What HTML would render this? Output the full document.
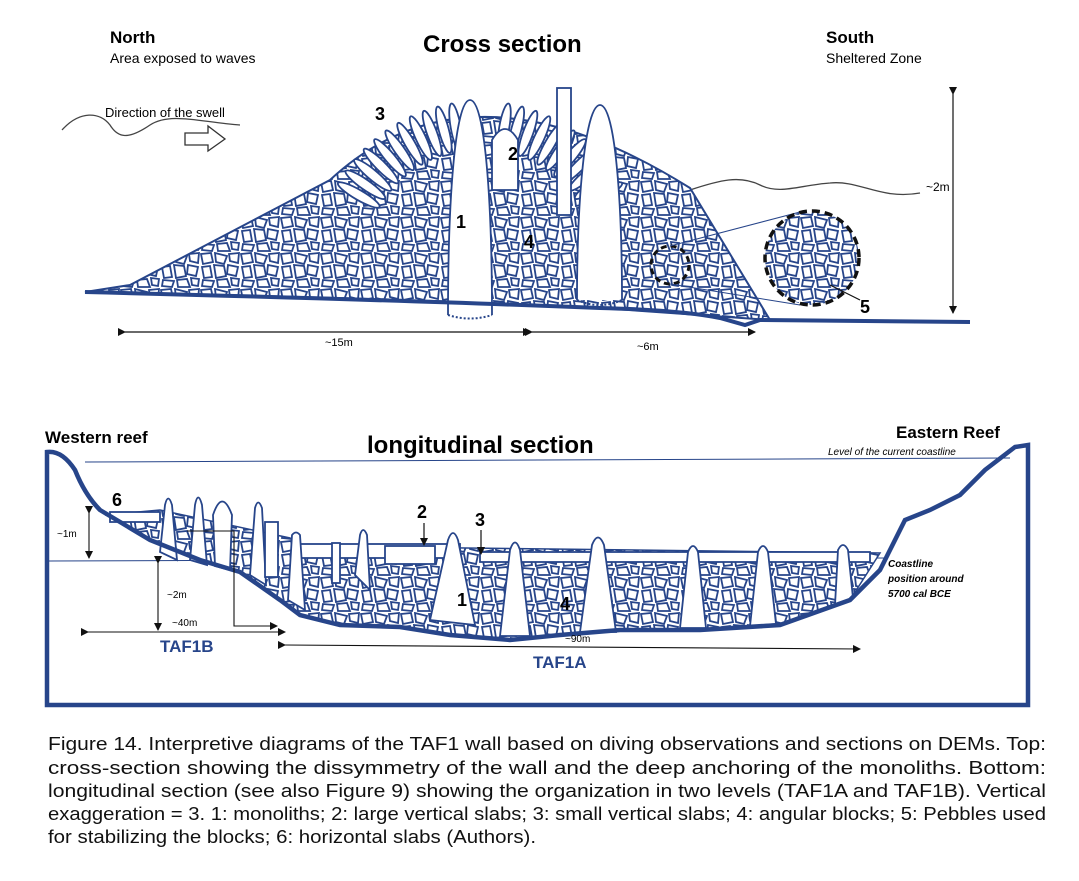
<!DOCTYPE html>
<html><head><meta charset="utf-8"><style>
html,body{margin:0;padding:0;background:#fff;}
svg{display:block;font-family:"Liberation Sans",Arial,sans-serif;}
</style></head><body>
<svg width="1079" height="881" viewBox="0 0 1079 881" xmlns="http://www.w3.org/2000/svg">
<defs>
<pattern id="rub" width="40" height="36" patternUnits="userSpaceOnUse">
<rect width="40" height="36" fill="#fff"/>
<g fill="none" stroke="#27458a" stroke-width="1.8">
<polygon points="1,2 11,1 13,10 3,12"/>
<polygon points="15,1 27,4 24,12 16,10"/>
<polygon points="29,2 39,1 38,11 30,9"/>
<polygon points="2,15 10,14 12,25 4,26"/>
<polygon points="14,13 24,14 26,24 16,26"/>
<polygon points="28,13 38,15 36,24 27,22"/>
<polygon points="3,28 14,29 12,35 2,34"/>
<polygon points="17,28 27,27 30,35 18,35"/>
<polygon points="31,26 39,27 38,34 32,33"/>
</g>
</pattern>
<marker id="ah" markerWidth="8" markerHeight="8" refX="7" refY="4" orient="auto" markerUnits="userSpaceOnUse"><path d="M0,0 L8,4 L0,8z" fill="#111"/></marker>
</defs>

<!-- TOP -->
<text x="110" y="43" font-size="17" font-weight="bold">North</text>
<text x="110" y="63" font-size="14">Area exposed to waves</text>
<text x="423" y="52" font-size="24" font-weight="bold">Cross section</text>
<text x="826" y="43" font-size="17" font-weight="bold">South</text>
<text x="826" y="63" font-size="14">Sheltered Zone</text>
<text x="105" y="117" font-size="13">Direction of the swell</text>
<path d="M62,130 C80,110 100,112 110,125 C118,138 128,140 150,125 C170,112 200,122 240,125" fill="none" stroke="#444" stroke-width="1.3"/>
<path d="M185,133 L208,133 L208,126 L225,139 L208,151 L208,145 L185,145z" fill="none" stroke="#333" stroke-width="1.3"/>
<path d="M690,190 C720,180 740,175 760,185 C780,195 800,185 830,183 C860,180 880,200 920,193" fill="none" stroke="#444" stroke-width="1.3"/>
<text x="926" y="191" font-size="12">~2m</text>
<line x1="953" y1="94" x2="953" y2="313" stroke="#111" stroke-width="1.2" marker-start="url(#ah)" marker-end="url(#ah)"/>

<!-- mound -->
<path d="M85,292 L130,285 L330,180 Q470,50 690,188 L770,320 L600,308 Q400,298 85,292z" fill="url(#rub)" stroke="#27458a" stroke-width="2"/>
<g fill="#fff" stroke="#27458a" stroke-width="1.8">
<ellipse cx="480" cy="125" rx="5" ry="24" transform="rotate(-60 480 265)"/>
<ellipse cx="480" cy="125" rx="5" ry="24" transform="rotate(-55 480 265)"/>
<ellipse cx="480" cy="125" rx="5" ry="24" transform="rotate(-50 480 265)"/>
<ellipse cx="480" cy="125" rx="5" ry="24" transform="rotate(-45 480 265)"/>
<ellipse cx="480" cy="125" rx="5" ry="24" transform="rotate(-40 480 265)"/>
<ellipse cx="480" cy="125" rx="5" ry="24" transform="rotate(-35 480 265)"/>
<ellipse cx="480" cy="125" rx="5" ry="24" transform="rotate(-30 480 265)"/>
<ellipse cx="480" cy="125" rx="5" ry="24" transform="rotate(-25 480 265)"/>
<ellipse cx="480" cy="125" rx="5" ry="24" transform="rotate(-20 480 265)"/>
<ellipse cx="480" cy="125" rx="5" ry="24" transform="rotate(-15 480 265)"/>
<ellipse cx="480" cy="125" rx="5" ry="24" transform="rotate(-10 480 265)"/>
<ellipse cx="480" cy="125" rx="5" ry="24" transform="rotate(10 480 265)"/>
<ellipse cx="480" cy="125" rx="5" ry="24" transform="rotate(15 480 265)"/>
<ellipse cx="480" cy="125" rx="5" ry="24" transform="rotate(20 480 265)"/>
<ellipse cx="480" cy="125" rx="5" ry="24" transform="rotate(25 480 265)"/>
<ellipse cx="480" cy="125" rx="5" ry="24" transform="rotate(30 480 265)"/>
<ellipse cx="480" cy="125" rx="5" ry="24" transform="rotate(35 480 265)"/>
<ellipse cx="480" cy="125" rx="5" ry="24" transform="rotate(40 480 265)"/>
<ellipse cx="480" cy="125" rx="5" ry="24" transform="rotate(45 480 265)"/>
<ellipse cx="480" cy="125" rx="5" ry="24" transform="rotate(50 480 265)"/>
<ellipse cx="480" cy="125" rx="5" ry="24" transform="rotate(55 480 265)"/>
<ellipse cx="480" cy="125" rx="5" ry="24" transform="rotate(60 480 265)"/>
<path d="M448,315 C448,200 455,100 470,100 C485,100 492,200 492,315"/>
<path d="M577,300 C577,200 585,105 600,105 C615,105 622,200 622,300"/>
<path d="M492,190 L492,140 Q505,118 518,140 L518,190z"/>
<rect x="557" y="88" width="14" height="127"/>
</g>
<path d="M448,315 Q470,322 492,315 M577,300 Q600,310 622,300" fill="none" stroke="#27458a" stroke-width="2" stroke-dasharray="2,2"/>
<path d="M85,292 Q400,300 600,308 Q680,310 720,318 L745,325 L760,320 L970,322" fill="none" stroke="#27458a" stroke-width="4"/>
<circle cx="670" cy="265" r="19" fill="none" stroke="#111" stroke-width="3" stroke-dasharray="6,4"/>
<line x1="670" y1="246" x2="800" y2="212" stroke="#27458a" stroke-width="1"/>
<line x1="670" y1="284" x2="800" y2="305" stroke="#27458a" stroke-width="1"/>
<circle cx="812" cy="258" r="47" fill="url(#rub)" stroke="#111" stroke-width="3.5" stroke-dasharray="8,5"/>
<line x1="830" y1="285" x2="860" y2="300" stroke="#111" stroke-width="1.2"/>
<text x="860" y="313" font-size="18" font-weight="bold">5</text>
<text x="375" y="120" font-size="18" font-weight="bold">3</text>
<text x="508" y="160" font-size="18" font-weight="bold">2</text>
<text x="456" y="228" font-size="18" font-weight="bold">1</text>
<text x="524" y="248" font-size="18" font-weight="bold">4</text>
<line x1="125" y1="332" x2="530" y2="332" stroke="#111" stroke-width="1.3" marker-start="url(#ah)" marker-end="url(#ah)"/>
<line x1="532" y1="332" x2="755" y2="332" stroke="#111" stroke-width="1.3" marker-start="url(#ah)" marker-end="url(#ah)"/>
<text x="325" y="346" font-size="11">~15m</text>
<text x="637" y="350" font-size="11">~6m</text>

<!-- BOTTOM -->
<text x="45" y="443" font-size="17" font-weight="bold">Western reef</text>
<text x="367" y="453" font-size="24" font-weight="bold">longitudinal section</text>
<text x="896" y="438" font-size="17" font-weight="bold">Eastern Reef</text>
<text x="828" y="455" font-size="10" font-style="italic">Level of the current coastline</text>
<line x1="85" y1="462" x2="1010" y2="458" stroke="#27458a" stroke-width="1"/>
<line x1="47" y1="561" x2="885" y2="558" stroke="#27458a" stroke-width="1"/>
<text x="888" y="567" font-size="10" font-style="italic" font-weight="bold">Coastline</text>
<text x="888" y="582" font-size="10" font-style="italic" font-weight="bold">position around</text>
<text x="888" y="597" font-size="10" font-style="italic" font-weight="bold">5700 cal BCE</text>

<path d="M105,515 L160,510 L290,538 L300,546 L880,553 L850,600 L780,625 L700,630 L620,630 L560,635 L510,640 L450,635 L400,627 L340,625 L300,615 L280,600 L240,572 L200,560 L150,540 L110,515z" fill="url(#rub)" stroke="#27458a" stroke-width="1.5"/>
<g fill="#fff" stroke="#27458a" stroke-width="1.8">
<rect x="110" y="512" width="50" height="10"/>
<rect x="300" y="544" width="160" height="14"/>
<rect x="385" y="546" width="50" height="18"/>
<rect x="480" y="552" width="390" height="10"/>
<path d="M160,552 L165,505 Q168,492 172,505 L177,560z"/>
<path d="M190,560 L195,505 Q198,490 202,505 L207,565z"/>
<path d="M213,515 Q222,488 232,515 L230,570 L215,566z"/>
<path d="M250,575 L255,508 Q258,497 262,508 L266,585z"/>
<rect x="265" y="522" width="13" height="55"/>
<path d="M288,600 L292,535 Q296,530 300,535 L305,610z"/>
<rect x="332" y="543" width="8" height="40"/>
<path d="M355,575 L360,535 Q363,525 367,535 L370,590z"/>
<path d="M430,620 L448,540 Q453,526 458,540 L475,625z"/>
<path d="M500,636 L510,550 Q515,535 520,550 L530,636z"/>
<path d="M580,632 L592,545 Q598,530 604,545 L616,632z"/>
<path d="M680,628 L688,552 Q693,540 698,552 L706,628z"/>
<path d="M750,626 L758,552 Q763,540 768,552 L776,624z"/>
<path d="M835,605 L838,550 Q843,540 848,550 L853,598z"/>
</g>
<path d="M47,705 L47,452 Q62,450 75,470 Q85,495 100,510 L150,540 L200,560 L240,572 L280,600 L300,615 L340,625 L400,627 L450,635 L510,640 L560,635 L620,630 L700,630 L780,625 L850,600 L880,570 L905,520 L930,510 L960,495 L985,470 L1015,447 L1028,445 L1028,705z" fill="none" stroke="#27458a" stroke-width="4.5"/>
<text x="112" y="506" font-size="18" font-weight="bold">6</text>
<text x="417" y="518" font-size="18" font-weight="bold">2</text>
<line x1="424" y1="523" x2="424" y2="545" stroke="#111" stroke-width="1.2" marker-end="url(#ah)"/>
<text x="475" y="526" font-size="18" font-weight="bold">3</text>
<line x1="481" y1="530" x2="481" y2="554" stroke="#111" stroke-width="1.2" marker-end="url(#ah)"/>
<text x="457" y="606" font-size="18" font-weight="bold">1</text>
<text x="560" y="610" font-size="18" font-weight="bold">4</text>
<line x1="89" y1="513" x2="89" y2="558" stroke="#111" stroke-width="1.1" marker-start="url(#ah)" marker-end="url(#ah)"/>
<text x="57" y="537" font-size="10">~1m</text>
<line x1="158" y1="563" x2="158" y2="630" stroke="#111" stroke-width="1.1" marker-start="url(#ah)" marker-end="url(#ah)"/>
<text x="167" y="598" font-size="10">~2m</text>
<polyline points="187,531 234,531 234,626 277,626" fill="none" stroke="#111" stroke-width="1.1" marker-end="url(#ah)"/>
<text x="172" y="626" font-size="10">~40m</text>
<line x1="88" y1="632" x2="285" y2="632" stroke="#111" stroke-width="1.1" marker-start="url(#ah)" marker-end="url(#ah)"/>
<text x="160" y="652" font-size="17" font-weight="bold" fill="#27458a">TAF1B</text>
<line x1="285" y1="645" x2="860" y2="649" stroke="#111" stroke-width="1.1" marker-start="url(#ah)" marker-end="url(#ah)"/>
<text x="565" y="642" font-size="10">~90m</text>
<text x="533" y="668" font-size="17" font-weight="bold" fill="#27458a">TAF1A</text>

<!-- caption -->
<g font-size="18" fill="#111">
<text x="48" y="750" textLength="998" lengthAdjust="spacingAndGlyphs">Figure 14. Interpretive diagrams of the TAF1 wall based on diving observations and sections on DEMs. Top:</text>
<text x="48" y="774" textLength="998" lengthAdjust="spacingAndGlyphs">cross-section showing the dissymmetry of the wall and the deep anchoring of the monoliths. Bottom:</text>
<text x="48" y="797" textLength="998" lengthAdjust="spacingAndGlyphs">longitudinal section (see also Figure 9) showing the organization in two levels (TAF1A and TAF1B). Vertical</text>
<text x="48" y="820" textLength="998" lengthAdjust="spacingAndGlyphs">exaggeration = 3. 1: monoliths; 2: large vertical slabs; 3: small vertical slabs; 4: angular blocks; 5: Pebbles used</text>
<text x="48" y="843" textLength="488" lengthAdjust="spacingAndGlyphs">for stabilizing the blocks; 6: horizontal slabs (Authors).</text>
</g>
</svg>
</body></html>
